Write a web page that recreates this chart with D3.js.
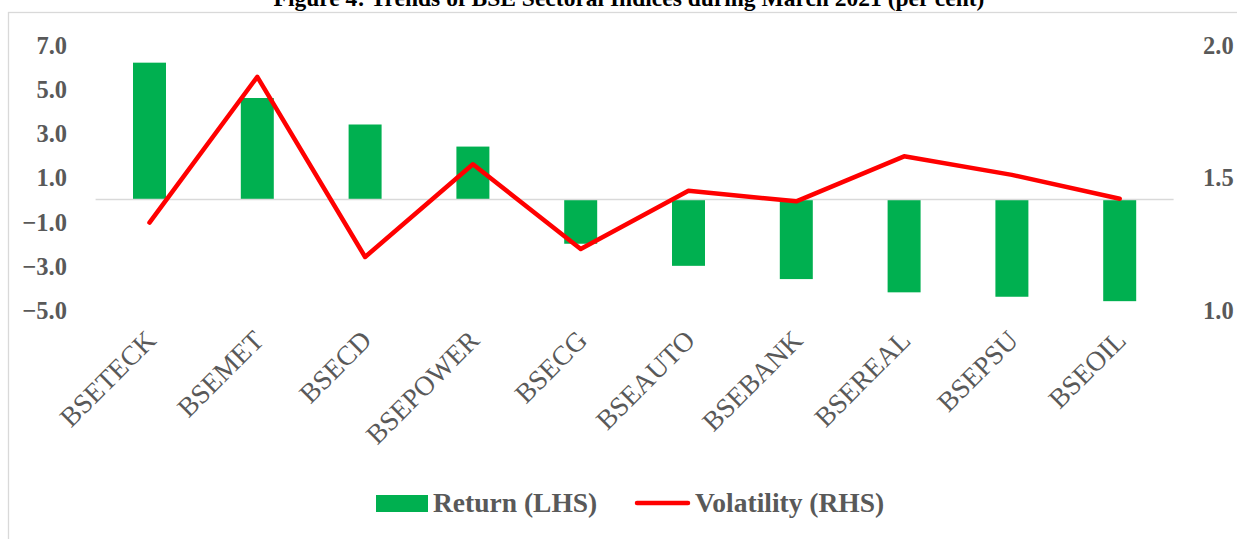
<!DOCTYPE html>
<html>
<head>
<meta charset="utf-8">
<script src="https://cdn.jsdelivr.net/npm/d3@7"></script>
<style>
  body { margin: 0; background: #fff; }
  svg { display: block; font-family: "Liberation Serif", "Times New Roman", serif; }
</style>
</head>
<body>
<script>
'use strict';

// sectors, in the order they appear
const sectors = ["BSETECK", "BSEMET", "BSECD", "BSEPOWER", "BSECG",
  "BSEAUTO", "BSEBANK", "BSEREAL", "BSEPSU", "BSEOIL"];
// monthly return, per cent (left axis)
const returns = [6.2, 4.6, 3.4, 2.4, -2.0, -3.0, -3.6, -4.2, -4.4, -4.6];
// volatility (right axis)
const volatility = [1.33, 1.88, 1.20, 1.55, 1.23, 1.45, 1.41, 1.58, 1.51, 1.42];
// axis ticks
const leftTicks = [7, 5, 3, 1, -1, -3, -5];
const rightTicks = [2.0, 1.5, 1.0];

const titleText = "Figure 4: Trends of BSE Sectoral Indices during March 2021 (per cent)";

(function () {
  const width = 1237, height = 539;
  const grey = "#595959";

  const svg = d3.select('body')
    .append('svg')
    .attr('width', width)
    .attr('height', height);

  // chart frame (runs off the right and bottom edge)
  svg.append('rect')
    .attr('x', 8.5)
    .attr('y', 12.5)
    .attr('width', 1300)
    .attr('height', 600)
    .attr('fill', 'none')
    .attr('stroke', '#d9d9d9')
    .attr('stroke-width', 1.3);

  // title, mostly cut off at the top like in the source
  svg.append('text')
    .attr('x', 629)
    .attr('y', 6)
    .attr('text-anchor', 'middle')
    .style('font-size', '23.5px')
    .style('font-weight', 'bold')
    .attr('fill', '#000')
    .text(titleText);

  // scales
  const x = d3.scaleBand()
    .domain(sectors)
    .range([95.6, 1173.6])
    .paddingInner(0.694)
    .paddingOuter(0.347);

  const yLeft = d3.scaleLinear()
    .domain([-5, 7])
    .range([310, 45]);

  const yRight = d3.scaleLinear()
    .domain([1, 2])
    .range([310, 45]);

  // left axis labels
  const leftAxis = d3.axisLeft(yLeft)
    .tickValues(leftTicks)
    .tickSize(0)
    .tickPadding(0)
    .tickFormat(d3.format('.1f'));
  const gl = svg.append('g')
    .attr('transform', 'translate(67,0)')
    .call(leftAxis);
  gl.select('.domain').remove();
  gl.selectAll('text')
    .attr('fill', grey)
    .attr('dy', '0.34em')
    .style('font-family', '"Liberation Serif", serif')
    .style('font-size', '24.5px')
    .style('font-weight', 'bold');

  // right axis labels
  const rightAxis = d3.axisRight(yRight)
    .tickValues(rightTicks)
    .tickSize(0)
    .tickPadding(0)
    .tickFormat(d3.format('.1f'));
  const gr = svg.append('g')
    .attr('transform', 'translate(1203,0)')
    .call(rightAxis);
  gr.select('.domain').remove();
  gr.selectAll('text')
    .attr('fill', grey)
    .attr('dy', '0.34em')
    .style('font-family', '"Liberation Serif", serif')
    .style('font-size', '24.5px')
    .style('font-weight', 'bold');

  // bars
  svg.selectAll('.bar')
    .data(sectors)
    .enter()
    .append('rect')
    .attr('class', 'bar')
    .attr('x', d => x(d))
    .attr('width', x.bandwidth())
    .attr('y', (d, i) => yLeft(Math.max(0, returns[i])))
    .attr('height', (d, i) => Math.abs(yLeft(returns[i]) - yLeft(0)))
    .attr('fill', '#00b050');

  // zero line
  svg.append('line')
    .attr('x1', x.range()[0])
    .attr('x2', x.range()[1])
    .attr('y1', yLeft(0))
    .attr('y2', yLeft(0))
    .attr('stroke', '#d9d9d9')
    .attr('stroke-width', 1.5);

  // volatility line
  const line = d3.line()
    .x((d, i) => x(sectors[i]) + x.bandwidth() / 2)
    .y(d => yRight(d));
  svg.append('path')
    .datum(volatility)
    .attr('d', line)
    .attr('fill', 'none')
    .attr('stroke', '#ff0000')
    .attr('stroke-width', 4.5)
    .attr('stroke-linejoin', 'round')
    .attr('stroke-linecap', 'round');

  // category labels, rotated
  const xAxis = d3.axisBottom(x)
    .tickSize(0)
    .tickPadding(0);
  const gx = svg.append('g')
    .attr('transform', 'translate(0,338)')
    .call(xAxis);
  gx.select('.domain').remove();
  gx.selectAll('text')
    .attr('fill', grey)
    .attr('text-anchor', 'end')
    .attr('dy', 0)
    .attr('transform', 'translate(8,4) rotate(-45)')
    .style('font-family', '"Liberation Serif", serif')
    .style('font-size', '27.5px');

  // legend
  const legend = svg.append('g')
    .style('font-size', '27.5px')
    .style('font-weight', 'bold')
    .attr('fill', grey);

  legend.append('rect')
    .attr('x', 376)
    .attr('y', 495)
    .attr('width', 52)
    .attr('height', 17)
    .attr('fill', '#00b050');
  legend.append('text')
    .attr('x', 433)
    .attr('y', 512)
    .text('Return (LHS)');

  legend.append('line')
    .attr('x1', 637)
    .attr('x2', 688)
    .attr('y1', 503)
    .attr('y2', 503)
    .attr('stroke', '#ff0000')
    .attr('stroke-width', 4.5)
    .attr('stroke-linecap', 'round');
  legend.append('text')
    .attr('x', 695)
    .attr('y', 512)
    .text('Volatility (RHS)');
})();
</script>
</body>
</html>
